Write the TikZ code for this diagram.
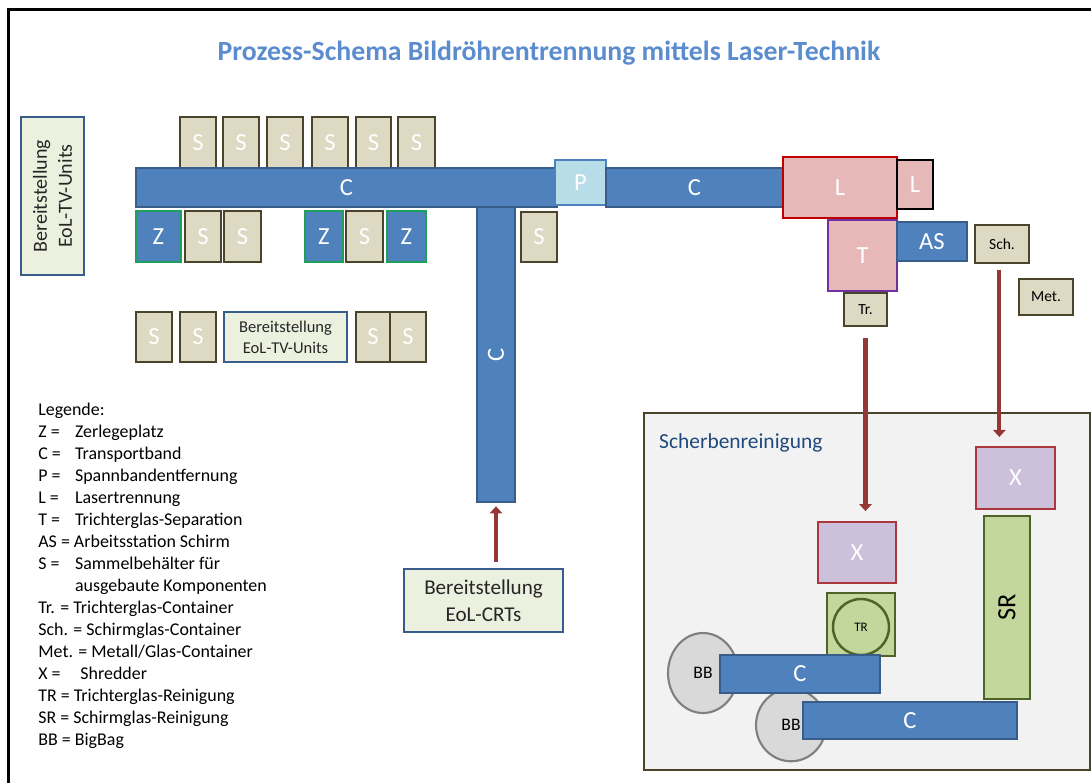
\documentclass[tikz,border=0pt]{standalone}
\usepackage{fontspec}
\setmainfont{Carlito}
\usepackage{xcolor}
\usetikzlibrary{arrows.meta, shapes.geometric, positioning}

\definecolor{bandblue}{RGB}{79,129,189}
\definecolor{bandedge}{RGB}{56,93,138}
\definecolor{sfill}{RGB}{221,217,195}
\definecolor{sedge}{RGB}{74,69,42}
\definecolor{zedge}{RGB}{30,160,90}
\definecolor{pfill}{RGB}{183,222,232}
\definecolor{lfill}{RGB}{230,185,184}
\definecolor{ledge}{RGB}{192,0,0}
\definecolor{tedge}{RGB}{112,48,160}
\definecolor{xfill}{RGB}{204,192,218}
\definecolor{xedge}{RGB}{170,55,60}
\definecolor{gfill}{RGB}{195,214,155}
\definecolor{gedge}{RGB}{79,98,40}
\definecolor{bbfill}{RGB}{217,217,217}
\definecolor{bbedge}{RGB}{127,127,127}
\definecolor{panelfill}{RGB}{242,242,242}
\definecolor{supplyfill}{RGB}{235,241,222}
\definecolor{flowred}{RGB}{149,55,53}
\definecolor{titleblue}{RGB}{91,140,205}
\definecolor{darkblue}{RGB}{31,73,125}

\tikzset{
  wh/.style 2 args={minimum width=#1*0.02cm, minimum height=#2*0.02cm},
  blk/.style={draw, inner sep=0pt, line width=0.9pt, text=white,
    font=\fontsize{14}{16}\selectfont},
  band/.style={blk, fill=bandblue, draw=bandedge},
  sbox/.style={blk, fill=sfill, draw=sedge, line width=1.4pt},
  zbox/.style={blk, fill=bandblue, draw=zedge, line width=1.4pt},
  small/.style={sbox, text=black, font=\fontsize{8.8}{10}\selectfont},
  lbox/.style={blk, fill=lfill, draw=ledge, line width=1.4pt},
  xbox/.style={blk, fill=xfill, draw=xedge, line width=1.4pt},
  gbox/.style={blk, fill=gfill, draw=gedge, line width=1.4pt},
  bbag/.style={ellipse, draw=bbedge, fill=bbfill, line width=1.2pt, inner sep=0pt,
    font=\fontsize{10}{12}\selectfont},
  supply/.style={draw=bandedge, fill=supplyfill, line width=1.3pt, inner sep=0pt,
    align=center, text=black!85},
  flow/.style={draw=flowred, line width=2.4pt, -{Triangle[width=7pt,length=4pt]}},
  rottext/.style={rotate=90, text=white, font=\fontsize{14}{16}\selectfont}
}

\begin{document}
\begin{tikzpicture}[x=0.02cm, y=-0.02cm]
  \useasboundingbox (0,0) rectangle (1091,782);
  % Rahmen
  \draw[line width=1.8pt] (8.5,9.5) rectangle (1100,800);

  % Titel
  \node[text=titleblue, font=\fontsize{15.8}{18}\selectfont\bfseries] (titel) at (549,53)
    {Prozess-Schema Bildröhrentrennung mittels Laser-Technik};

  % Bereitstellung links (gedreht)
  \node[supply, wh={63}{158},
    label={[rotate=90, align=center, text=black!85, font=\fontsize{11.4}{14.2}\selectfont]center:Bereitstellung\\EoL-TV-Units}] (tvlinks) at (52.5,196) {};

  % Sammelbehaelter oben
  \node[sbox, wh={36}{51}] (so1) at (198,142.5) {S};
  \node[sbox, wh={36}{51}] (so2) at (241,142.5) {S};
  \node[sbox, wh={36}{51}] (so3) at (285,142.5) {S};
  \node[sbox, wh={36}{51}] (so4) at (330,142.5) {S};
  \node[sbox, wh={35}{51}] (so5) at (373.5,142.5) {S};
  \node[sbox, wh={37}{51}] (so6) at (416.5,142.5) {S};

  % Transportbaender
  \node[band, wh={421}{39}] (band1) at (346.5,187.5) {C};
  \node[band, wh={38}{295}, label={[rottext]center:C}] (band2) at (496,354.5) {};
  \node[blk, fill=pfill, draw=bandblue, wh={51}{45}] (spann) at (580.5,182.5) {P};
  \node[band, wh={177}{39}] (band3) at (694.5,187.5) {C};

  % Zerlegeplaetze und Behaelter unter dem Band
  \node[zbox, wh={45}{51}] (z1) at (158.5,236.5) {Z};
  \node[sbox, wh={36}{51}] (su1) at (203,236.5) {S};
  \node[sbox, wh={37}{51}] (su2) at (242.5,236.5) {S};
  \node[zbox, wh={38}{51}] (z2) at (324,236.5) {Z};
  \node[sbox, wh={37}{51}] (su3) at (364.5,236.5) {S};
  \node[zbox, wh={39}{51}] (z3) at (406.5,236.5) {Z};
  \node[sbox, wh={36}{50}] (su4) at (539,237) {S};

  % dritte Reihe
  \node[sbox, wh={36}{50}] (sr1) at (154,337) {S};
  \node[sbox, wh={36}{50}] (sr2) at (198,337) {S};
  \node[supply, wh={123}{50}, font=\fontsize{9.4}{12}\selectfont] (tvmitte) at (285.5,337)
    {Bereitstellung\\EoL-TV-Units};
  \node[sbox, wh={34}{50}] (sr3) at (373,337) {S};
  \node[sbox, wh={36}{50}] (sr4) at (408,337) {S};

  % Laser, Trichterglas, Arbeitsstation
  \node[lbox, wh={114}{61}] (laser1) at (840,187.5) {L};
  \node[lbox, draw=black, wh={36}{49}] (laser2) at (915,184.5) {L};
  \node[lbox, draw=tedge, wh={69}{71}] (trichter) at (862.5,255.5) {T};
  \node[band, wh={70}{39}] (arbeit) at (932,241.5) {AS};
  \node[small, wh={54}{38}] (sch) at (1002,244) {Sch.};
  \node[small, wh={54}{36}] (met) at (1046,297) {Met.};
  \node[small, wh={43}{33}] (tr) at (865.5,309.5) {Tr.};

  % Bereitstellung CRTs
  \node[supply, wh={159}{63}, font=\fontsize{12}{15.3}\selectfont] (crt) at (483.5,600.5)
    {Bereitstellung\\EoL-CRTs};
  \draw[flow, shorten <=3.5pt, shorten >=2pt] (crt.north -| band2) -- (band2.south);

  % Legende
  \node[anchor=north west, align=left, inner sep=0pt,
    font=\fontsize{10.2}{12.5}\selectfont] (legende) at (38,403)
    {Legende:\\
     \makebox[2.05em][l]{Z =}Zerlegeplatz\\
     \makebox[2.05em][l]{C =}Transportband\\
     \makebox[2.05em][l]{P =}Spannbandentfernung\\
     \makebox[2.05em][l]{L =}Lasertrennung\\
     \makebox[2.05em][l]{T =}Trichterglas-Separation\\
     AS = Arbeitsstation Schirm\\
     \makebox[2.05em][l]{S =}Sammelbehälter für\\
     \hspace*{2.05em}ausgebaute Komponenten\\
     Tr. = Trichterglas-Container\\
     Sch. = Schirmglas-Container\\
     Met. = Metall/Glas-Container\\
     \makebox[2.35em][l]{X =}Shredder\\
     TR = Trichterglas-Reinigung\\
     SR = Schirmglas-Reinigung\\
     BB = BigBag};

  % Scherbenreinigung
  \node[draw=sedge, fill=panelfill, line width=1.4pt, inner sep=0pt, wh={446}{357}]
    (scherben) at (867,591.5) {};
  \node[anchor=west, text=darkblue, font=\fontsize{12.2}{14}\selectfont] (scherbtxt)
    at (653,443) {Scherbenreinigung};

  \node[xbox, wh={78}{61}] (shred1) at (857,552.5) {X};
  \node[xbox, wh={79}{62}] (shred2) at (1015.5,478) {X};
  \node[gbox, wh={68}{63}] (trbox) at (861,624.5) {};
  \node[circle, draw=gedge, fill=gfill, line width=1.4pt, minimum size=1.12cm,
    inner sep=0pt, font=\fontsize{7.4}{9}\selectfont] (treinig) at (861,627) {TR};
  \node[gbox, wh={46}{183},
    label={[rotate=90, font=\fontsize{15}{17}\selectfont]center:SR}] (schirmr) at (1007,607.5) {};

  \node[bbag, minimum width=1.4cm, minimum height=1.6cm] (bag1) at (703,673) {BB};
  \node[bbag, minimum width=1.4cm, minimum height=1.45cm] (bag2) at (791,725) {BB};
  \node[band, wh={160}{38}] (band4) at (800,674) {C};
  \node[band, wh={214}{37}] (band5) at (910,720.5) {C};

  % Stofffluss zu den Shreddern
  \draw[flow, shorten <=6pt, shorten >=5.5pt] (tr.south) -- (tr.south |- shred1.north);
  \draw[flow, shorten <=3pt, shorten >=5pt] ([xshift=-1.5pt]sch.south) -- ([xshift=-1.5pt]sch.south |- shred2.north);
\end{tikzpicture}
\end{document}
